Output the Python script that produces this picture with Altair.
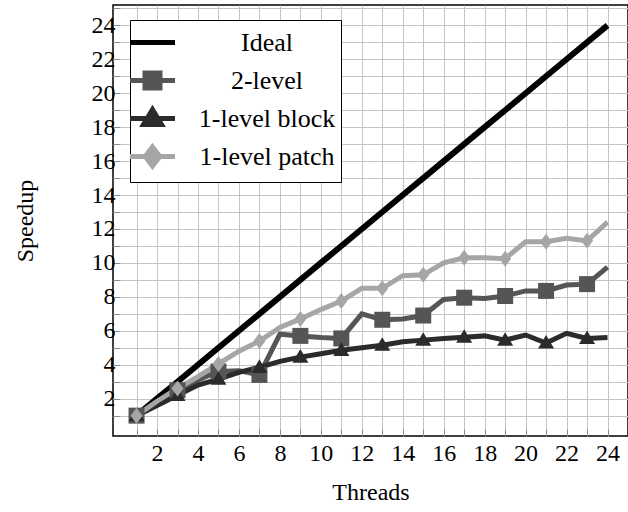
import altair as alt
import pandas as pd

threads = [1, 2, 3, 4, 5, 6, 7, 8, 9, 10, 11, 12, 13, 14, 15, 16, 17, 18, 19, 20, 21, 22, 23, 24]
ideal = [1, 2, 3, 4, 5, 6, 7, 8, 9, 10, 11, 12, 13, 14, 15, 16, 17, 18, 19, 20, 21, 22, 23, 24]
two_level = [1.0, 1.75, 2.5, 3.1, 3.6, 3.65, 3.4, 5.8, 5.7, 5.6, 5.55, 7.0, 6.65, 6.7, 6.9,
             7.85, 7.95, 7.9, 8.05, 8.35, 8.35, 8.7, 8.75, 9.75]
block = [1.0, 1.6, 2.2, 2.8, 3.15, 3.55, 3.85, 4.2, 4.45, 4.65, 4.85, 5.0, 5.15, 5.35, 5.45,
         5.55, 5.62, 5.7, 5.45, 5.75, 5.28, 5.85, 5.55, 5.6]
patch = [1.0, 1.85, 2.6, 3.3, 4.05, 4.8, 5.4, 6.2, 6.7, 7.25, 7.75, 8.5, 8.5, 9.25, 9.3,
         10.0, 10.3, 10.3, 10.25, 11.25, 11.25, 11.45, 11.3, 12.4]
marker_threads = [1, 3, 5, 7, 9, 11, 13, 15, 17, 19, 21, 23]

series_names = ["Ideal", "2-level", "1-level block", "1-level patch"]
series_colors = ["#000000", "#555555", "#2b2b2b", "#a6a6a6"]
marker_series = ["2-level", "1-level block", "1-level patch"]
marker_paths = [
    "M-1,-1H1V1H-1Z",
    "M-1,0.7L0,-1L1,0.7Z",
    "M0,-1L0.75,0L0,1L-0.75,0Z",
]
tick_values = [1, 2, 3, 4, 5, 6, 7, 8, 9, 10, 11, 12, 13, 14, 15, 16, 17, 18, 19, 20,
               21, 22, 23, 24, 25]

rows = []
for name, vals in zip(series_names, [ideal, two_level, block, patch]):
    for t, v in zip(threads, vals):
        rows.append({"threads": t, "speedup": v, "series": name})
df = pd.DataFrame(rows)
pts = df[(df.series != "Ideal") & (df.threads.isin(marker_threads))]

FONT = "Times New Roman, Liberation Serif, Times, serif"
label_expr = "datum.value % 2 == 0 ? datum.label : ''"

x_enc = alt.X("threads:Q",
              scale=alt.Scale(domain=[-0.15, 25.0], nice=False, zero=False),
              axis=alt.Axis(values=tick_values, labelExpr=label_expr, title="Threads",
                            titleY=56, titleBaseline="middle", titleFont=FONT,
                            labelFont=FONT))
y_enc = alt.Y("speedup:Q",
              scale=alt.Scale(domain=[-0.2, 25.2], nice=False, zero=False),
              axis=alt.Axis(values=tick_values, labelExpr=label_expr, title="Speedup",
                            titleX=-88, titleBaseline="middle", titleAngle=-90,
                            titleFont=FONT, labelFont=FONT))

color_scale = alt.Scale(domain=series_names, range=series_colors)

# every legend symbol has the same (symmetric) vertical extent via zero-length end points
bound = "M0,-0.7L0,-0.7M0,0.7L0,0.7"
shape_expr = (
    "datum.value === 'Ideal' ? '" + bound + "M-1.5,0H1.5' : "
    "datum.value === '2-level' ? '" + bound + "M-1.5,0H1.5M-0.5,-0.5H0.5V0.5H-0.5Z' : "
    "datum.value === '1-level block' ? '" + bound + "M-1.5,0H1.5M-0.6,0.4L0,-0.6L0.6,0.4Z' : "
    "'" + bound + "M-1.5,0H1.5M0,-0.64L0.48,0L0,0.64L-0.48,0Z'"
)

legend = alt.Legend(
    title=None, orient="none", legendX=17, legendY=15,
    symbolSize=900, labelOffset=97, labelAlign="center", rowPadding=-13, padding=5,
    strokeColor="black", fillColor="white",
    symbolType=alt.ExprRef(expr=shape_expr),
    symbolFillColor=alt.ExprRef(expr="scale('color', datum.value)"),
    symbolStrokeColor=alt.ExprRef(expr="scale('color', datum.value)"),
    symbolStrokeWidth=5, symbolOpacity=1,
    labelFont=FONT, labelFontSize=26, labelColor="black", labelLimit=400,
)

lines = alt.Chart(df).mark_line().encode(
    x=x_enc, y=y_enc,
    color=alt.Color("series:N", scale=color_scale, legend=legend, sort=series_names),
    strokeWidth=alt.condition(alt.datum.series == "Ideal", alt.value(6), alt.value(5)),
)

points = alt.Chart(pts).mark_point(filled=True, opacity=1, size=256).encode(
    x=x_enc, y=y_enc,
    color=alt.Color("series:N", scale=color_scale, legend=None),
    shape=alt.Shape("series:N", scale=alt.Scale(domain=marker_series, range=marker_paths),
                    legend=None),
)

chart = alt.layer(lines, points).properties(
    width=515, height=431,
    autosize=alt.AutoSizeParams(type="none"),
    padding={"left": 113, "top": 5, "right": 0, "bottom": 76},
).configure(
    font=FONT,
).configure_view(
    stroke="black", strokeWidth=1.5,
).configure_axis(
    grid=True, gridColor="#c4c4c4", gridWidth=1, gridOpacity=1,
    domain=False, ticks=True, tickSize=alt.ExprRef(expr="-7"), tickColor="#8c8c8c",
    tickWidth=1,
    labelFont=FONT, labelFontSize=24, labelColor="black",
    titleFont=FONT, titleFontSize=24, titleFontWeight="normal", titleColor="black",
).configure_axisX(labelPadding=12).configure_axisY(labelPadding=5)

chart.save("out.html", embed_options={"renderer": "svg", "actions": False})
